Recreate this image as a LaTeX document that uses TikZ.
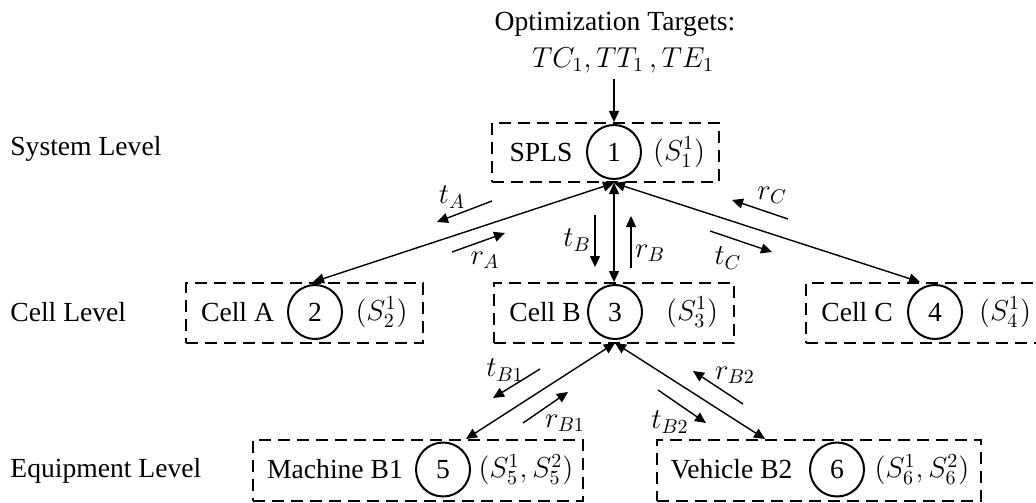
\documentclass[tikz,border=0pt]{standalone}
\usepackage{fontspec}
\setmainfont{Liberation Serif}
\usetikzlibrary{arrows.meta,calc}
\begin{document}
\begin{tikzpicture}[x=0.5pt,y=-0.5pt,
  every node/.style={font=\fontsize{13.8}{16}\selectfont},
  lvl/.style={anchor=west,inner sep=0pt},
  dbox/.style={draw,line width=1pt,dash pattern=on 6pt off 3.5pt,anchor=north west,inner sep=0pt,minimum height=30pt},
  cnode/.style={draw,circle,line width=1pt,minimum size=27pt,inner sep=0pt},
  txt/.style={inner sep=0pt},
  link/.style={line width=0.7pt,{Triangle[length=5.5pt,width=5pt]}-{Triangle[length=5.5pt,width=5pt]}},
  flow/.style={line width=0.7pt,-{Triangle[length=5.5pt,width=5pt]}},
  lab/.style={inner sep=0pt}]
\useasboundingbox (0,0) rectangle (1036,502);

% level labels
\node[lvl] (lsys) at (10,149) {System Level};
\node[lvl] (lcell) at (10,312) {Cell Level};
\node[lvl] (leq) at (10,471) {Equipment Level};

% title
\node[txt] (title1) at (615,24) {Optimization Targets:};
\node[txt] (title2) at (623,60) {$TC_1, TT_1\,, TE_1$};

% boxes
\node[dbox,minimum width=113.5pt,minimum height=29.5pt] (b1) at (491,122) {};
\node[dbox,minimum width=118.5pt] (bA) at (185,282) {};
\node[dbox,minimum width=120pt] (bB) at (493,282) {};
\node[dbox,minimum width=122.5pt] (bC) at (805,282) {};
\node[dbox,minimum width=165pt,minimum height=30.5pt] (b5) at (252,439) {};
\node[dbox,minimum width=162pt,minimum height=30.5pt] (b6) at (656,439) {};

% system
\node[txt] (t1) at (541,152) {SPLS};
\node[cnode] (c1) at (614,152) {1};
\node[txt] (s1) at (679,152) {$(S_1^1)$};

% cells
\node[txt] (tA) at (237.5,312) {Cell A};
\node[cnode] (c2) at (315,312) {2};
\node[txt] (sA) at (381.5,312) {$(S_2^1)$};

\node[txt] (tB) at (545,312) {Cell B};
\node[cnode] (c3) at (615,312) {3};
\node[txt] (sB) at (692,312) {$(S_3^1)$};

\node[txt] (tC) at (857,312) {Cell C};
\node[cnode] (c4) at (935,312) {4};
\node[txt] (sC) at (1005,312) {$(S_4^1)$};

% equipment
\node[txt] (t5) at (335,469.5) {Machine B1};
\node[cnode] (c5) at (443,469.5) {5};
\node[txt] (s5) at (526,469.5) {$(S_5^1,S_5^2)$};

\node[txt] (t6) at (731.5,469.5) {Vehicle B2};
\node[cnode] (c6) at (837,469.5) {6};
\node[txt] (s6) at (922,469.5) {$(S_6^1,S_6^2)$};

% connector end points
\coordinate (p1) at (b1.south -| c1);
\coordinate (pin) at (b1.north -| c1);
\coordinate (pA) at (313,282);
\coordinate (pB) at (bB.north -| c1);
\coordinate (pC) at (920,282);
\coordinate (p3) at (615,343);
\coordinate (p5) at (466,439);
\coordinate (p6) at (765,439);

% main connectors
\draw[flow] (title2.south -| c1) ++(0,6) -- (pin);
\draw[link] (p1) -- (pA);
\draw[link] (p1) -- (pB);
\draw[link] (p1) -- (pC);
\draw[link] (p3) -- (p5);
\draw[link] (p3) -- (p6);

% flow arrows
\draw[flow] (492,201) -- (437,222);
\draw[flow] (452,252) -- (505,233);
\draw[flow] (595,215) -- (595,267);
\draw[flow] (631,268) -- (631,216);
\draw[flow] (710,231) -- (772,252);
\draw[flow] (788,219) -- (732,200);
\draw[flow] (540,369) -- (493,398);
\draw[flow] (523,423) -- (568,392);
\draw[flow] (743,404) -- (693,371);
\draw[flow] (658,390) -- (706,423);

% flow labels
\node[lab] (ltA) at (452,197) {$t_A$};
\node[lab] (lrA) at (485,260) {$r_A$};
\node[lab] (ltB) at (577,240) {$t_B$};
\node[lab] (lrB) at (650,253) {$r_B$};
\node[lab] (ltC) at (728,258) {$t_C$};
\node[lab] (lrC) at (772,195) {$r_C$};
\node[lab] (ltB1) at (505,370) {$t_{B1}$};
\node[lab] (lrB1) at (565,423) {$r_{B1}$};
\node[lab] (lrB2) at (735,375) {$r_{B2}$};
\node[lab] (ltB2) at (670,422) {$t_{B2}$};
\end{tikzpicture}
\end{document}
